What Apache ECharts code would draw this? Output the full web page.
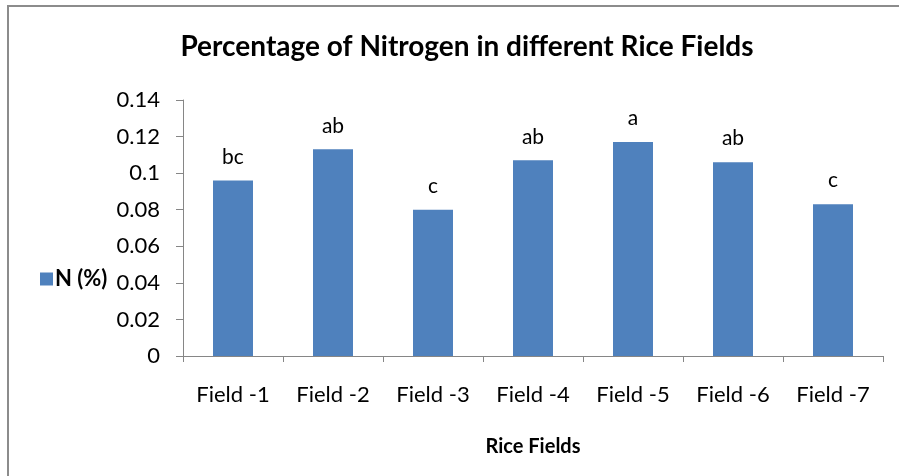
<!DOCTYPE html>
<html>
<head>
<meta charset="utf-8">
<script src="https://cdn.jsdelivr.net/npm/echarts@6/dist/echarts.min.js"></script>
<style>
  html, body { margin: 0; padding: 0; background: #fff; }
  #chart { width: 899px; height: 476px; }
</style>
</head>
<body>
<div id="chart"></div>
<script>
// data
const fields = ['Field -1', 'Field -2', 'Field -3', 'Field -4', 'Field -5', 'Field -6', 'Field -7']
const nitrogen = [0.096, 0.113, 0.08, 0.107, 0.117, 0.106, 0.083]
const letters = ['bc', 'ab', 'c', 'ab', 'a', 'ab', 'c']

const font = 'Lato, "Open Sans", sans-serif'
const axisGray = '#868686'

const chart = echarts.init(document.getElementById('chart'))
chart.setOption({
  animation: false,
  textStyle: { fontFamily: font },
  graphic: [{
    type: 'rect',
    shape: { x: 8, y: 6, width: 1000, height: 600 },
    style: { fill: 'none', stroke: '#8c8c8c', lineWidth: 2 },
    silent: true,
    z: -1
  }],
  title: {
    text: 'Percentage of Nitrogen in different Rice Fields',
    left: 462,
    top: 28,
    textAlign: 'center',
    textStyle: { fontFamily: font, fontSize: 28, fontWeight: 'bold', color: '#000' }
  },
  legend: {
    left: 35,
    top: 263,
    orient: 'vertical',
    itemWidth: 13,
    itemHeight: 13,
    itemGap: 4,
    icon: 'rect',
    data: ['N (%)'],
    textStyle: { fontFamily: font, fontSize: 22, fontWeight: 'bold', color: '#000', padding: [0, 0, 0, -3] }
  },
  grid: { left: 183, right: 16, top: 100, bottom: 120, containLabel: false },
  xAxis: {
    type: 'category',
    data: fields,
    name: 'Rice Fields',
    nameLocation: 'middle',
    nameGap: 81,
    nameTextStyle: { fontFamily: font, fontSize: 20, fontWeight: 'bold', color: '#000' },
    axisLine: { lineStyle: { color: axisGray, width: 1 } },
    axisTick: { show: true, length: 6, lineStyle: { color: axisGray } },
    axisLabel: { margin: 28, fontFamily: font, fontSize: 22, color: '#000' }
  },
  yAxis: {
    type: 'value',
    min: 0,
    max: 0.14,
    interval: 0.02,
    axisLine: { show: true, lineStyle: { color: axisGray, width: 1 } },
    axisTick: { show: true, length: 7, lineStyle: { color: axisGray } },
    splitLine: { show: false },
    axisLabel: {
      margin: 23,
      fontFamily: font,
      fontSize: 22,
      color: '#000',
      formatter: v => String(+v.toFixed(2))
    }
  },
  series: [{
    name: 'N (%)',
    type: 'bar',
    data: nitrogen,
    barWidth: '40%',
    itemStyle: { color: '#4f81bd' },
    label: {
      show: true,
      position: 'top',
      distance: 13,
      fontFamily: font,
      fontSize: 21,
      color: '#000',
      formatter: p => letters[p.dataIndex]
    }
  }]
})
</script>
</body>
</html>
